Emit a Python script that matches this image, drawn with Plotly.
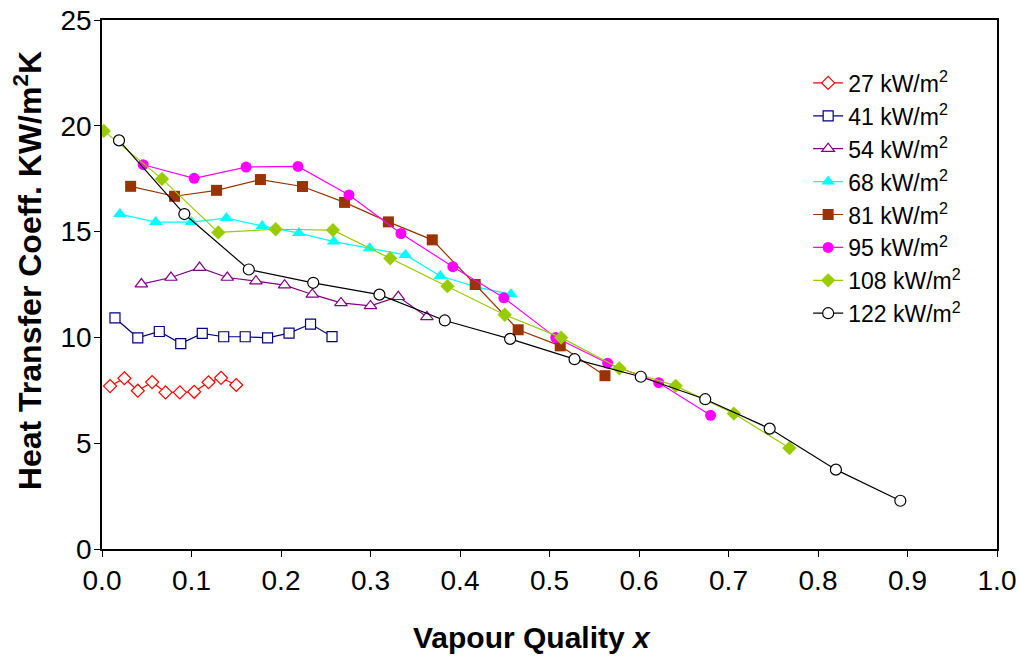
import plotly.graph_objects as go

labels = ["27 kW/m<sup>2</sup>", "41 kW/m<sup>2</sup>", "54 kW/m<sup>2</sup>", "68 kW/m<sup>2</sup>",
          "81 kW/m<sup>2</sup>", "95 kW/m<sup>2</sup>", "108 kW/m<sup>2</sup>", "122 kW/m<sup>2</sup>"]

x27 = [0.009, 0.025, 0.040, 0.056, 0.071, 0.087, 0.103, 0.119, 0.133, 0.150]
y27 = [7.70, 8.07, 7.48, 7.89, 7.40, 7.40, 7.43, 7.88, 8.09, 7.75]

x41 = [0.0145, 0.040, 0.064, 0.088, 0.112, 0.136, 0.160, 0.185, 0.209, 0.233, 0.257]
y41 = [10.92, 9.98, 10.28, 9.71, 10.19, 10.03, 10.03, 9.98, 10.20, 10.63, 10.04]

x54 = [0.044, 0.077, 0.109, 0.140, 0.172, 0.204, 0.235, 0.267, 0.300, 0.331, 0.363]
y54 = [12.52, 12.83, 13.30, 12.83, 12.66, 12.47, 12.03, 11.63, 11.49, 11.92, 10.97]

x68 = [0.020, 0.060, 0.100, 0.139, 0.179, 0.220, 0.259, 0.299, 0.339, 0.378, 0.418, 0.457]
y68 = [15.83, 15.45, 15.45, 15.64, 15.27, 14.93, 14.53, 14.21, 13.90, 12.90, 12.39, 12.04]

x81 = [0.032, 0.081, 0.128, 0.177, 0.224, 0.271, 0.320, 0.369, 0.417, 0.465, 0.512, 0.562]
y81 = [17.14, 16.67, 16.95, 17.46, 17.13, 16.38, 15.46, 14.61, 12.50, 10.36, 9.60, 8.19]

x95 = [0.046, 0.103, 0.161, 0.219, 0.276, 0.334, 0.392, 0.449, 0.507, 0.565, 0.622, 0.680]
y95 = [18.16, 17.52, 18.05, 18.08, 16.73, 14.91, 13.34, 11.87, 9.99, 8.78, 7.86, 6.32]

x108 = [0.002, 0.067, 0.130, 0.194, 0.258, 0.322, 0.386, 0.450, 0.513, 0.578, 0.641, 0.706, 0.768]
y108 = [19.76, 17.49, 14.96, 15.11, 15.07, 13.74, 12.42, 11.07, 9.99, 8.54, 7.71, 6.40, 4.77]

x122 = [0.019, 0.092, 0.164, 0.236, 0.310, 0.383, 0.456, 0.528, 0.602, 0.674, 0.746, 0.820, 0.892]
y122 = [19.31, 15.83, 13.21, 12.58, 12.02, 10.80, 9.93, 8.97, 8.14, 7.08, 5.69, 3.75, 2.28]

x_ticks = [0, 0.1, 0.2, 0.3, 0.4, 0.5, 0.6, 0.7, 0.8, 0.9, 1.0]
x_ticktext = ["0.0", "0.1", "0.2", "0.3", "0.4", "0.5", "0.6", "0.7", "0.8", "0.9", "1.0"]
y_ticks = [0, 5, 10, 15, 20, 25]

x_title = "<b>Vapour Quality <i>x</i></b>"
y_title = "<b>Heat Transfer Coeff. KW/m<sup>2</sup>K</b>"

xs = [x27, x41, x54, x68, x81, x95, x108, x122]
ys = [y27, y41, y54, y68, y81, y95, y108, y122]
colors = ["#FF0000", "#000080", "#800080", "#00FFFF", "#993300", "#FF00FF", "#99CC00", "#000000"]
symbols = ["diamond-open", "square-open", "triangle-up-open", "triangle-up", "square", "circle",
           "diamond", "circle-open"]
sizes = [10, 10, 11, 12, 11, 11, 11, 11]

fig = go.Figure()
for lab, x, y, c, s, sz in zip(labels, xs, ys, colors, symbols, sizes):
    open_ = s.endswith("open")
    fig.add_trace(go.Scatter(
        x=x, y=y, name=lab, mode="lines+markers",
        line=dict(color=c, width=1.2),
        marker=dict(symbol=s.replace("-open", "") if open_ else s, size=sz,
                    color="white" if open_ else c,
                    line=dict(color=c, width=1.2 if open_ else 0)),
    ))

FONT = "Liberation Sans, Arial, sans-serif"

fig.update_layout(
    width=1019, height=657,
    margin=dict(l=102, r=22, t=20, b=108),
    paper_bgcolor="white", plot_bgcolor="white",
    font=dict(family=FONT, color="black"),
    showlegend=True,
    legend=dict(x=0.789, y=0.9216, xanchor="left", yanchor="top",
                font=dict(size=23, family=FONT),
                bgcolor="rgba(0,0,0,0)", itemwidth=30),
    xaxis=dict(range=[0, 1.0], tickvals=x_ticks, ticktext=x_ticktext,
               showgrid=False, zeroline=False, showline=True, linecolor="black", linewidth=1.5,
               mirror=True, ticks="outside", ticklen=6, tickcolor="black", automargin=False,
               ticklabeloverflow="allow",
               tickfont=dict(size=28, family=FONT)),
    yaxis=dict(range=[0, 25], tickvals=y_ticks,
               showgrid=False, zeroline=False, showline=True, linecolor="black", linewidth=1.5,
               mirror=True, ticks="outside", ticklen=6, tickcolor="black", automargin=False,
               ticklabeloverflow="allow", ticklabelstandoff=-3,
               tickfont=dict(size=28, family=FONT)),
    annotations=[
        dict(text=x_title, xref="paper", yref="paper",
             x=0.4804, y=-0.168, xanchor="center", yanchor="middle", showarrow=False,
             font=dict(size=30, family=FONT)),
        dict(text=y_title, xref="paper", yref="paper", textangle=-90,
             x=-0.0827, y=0.527, xanchor="center", yanchor="middle", showarrow=False,
             font=dict(size=32, family=FONT)),
    ],
)

# remove the default 8px page margin so the 1019x657 figure fills the window exactly
fig.write_html("out.html", config={"displayModeBar": False},
               post_script="document.body.style.margin='0';document.body.style.overflow='hidden';")
